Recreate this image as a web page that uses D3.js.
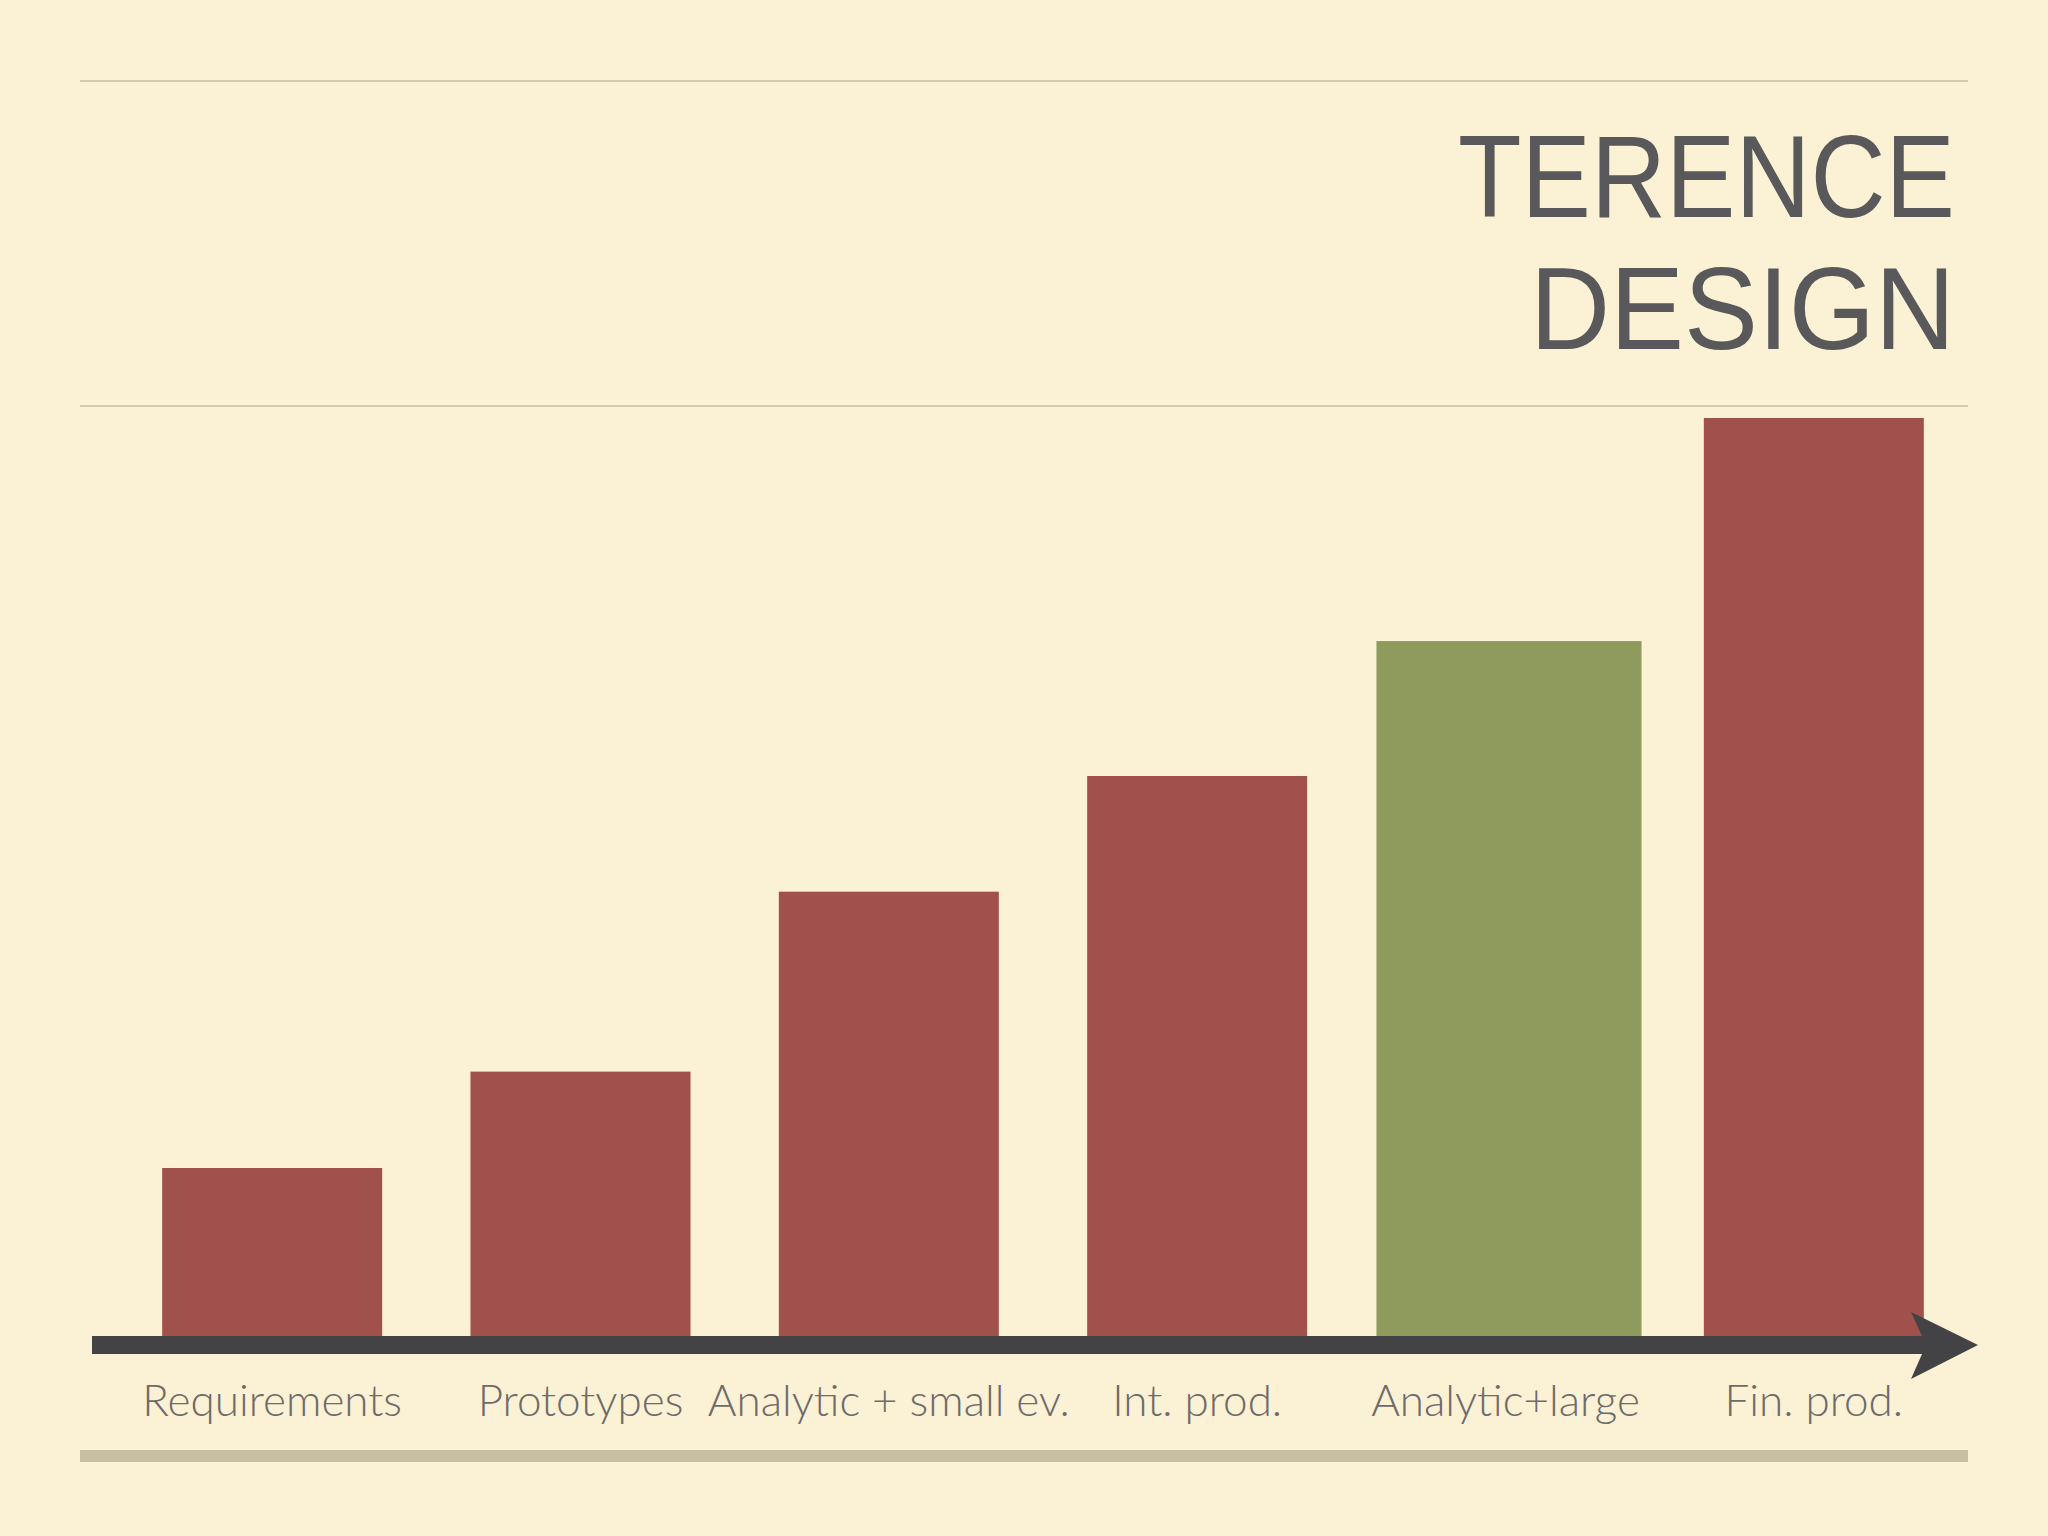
<!DOCTYPE html>
<html>
<head>
<meta charset="utf-8">
<script src="https://cdn.jsdelivr.net/npm/d3@7"></script>
<style>
  html, body { margin: 0; padding: 0; background: #fbf1d5; }
  svg { display: block; }
</style>
</head>
<body>
<script>
// ---- data ----
const categories = ["Requirements", "Prototypes", "Analytic + small ev.", "Int. prod.", "Analytic+large", "Fin. prod."];
const values = [18.3, 28.8, 48.4, 61.0, 75.7, 100];
const highlight = [false, false, false, false, true, false];
const titleLines = ["TERENCE", "DESIGN"];

// ---- layout ----
const W = 2048, H = 1536;
const svg = d3.select("body").append("svg").attr("width", W).attr("height", H);

svg.append("rect").attr("width", W).attr("height", H).attr("fill", "#fbf1d5");

const x = d3.scaleBand()
  .domain(categories)
  .range([118, 1968])
  .paddingInner(0.2865)
  .paddingOuter(0.14325);

const y = d3.scaleLinear().domain([0, 100]).range([1336, 418]);

// rules
svg.append("rect").attr("x", 80).attr("y", 80).attr("width", 1888).attr("height", 2).attr("fill", "#d3c9ad");
svg.append("rect").attr("x", 80).attr("y", 405).attr("width", 1888).attr("height", 2).attr("fill", "#d3c9ad");
svg.append("rect").attr("x", 80).attr("y", 1450).attr("width", 1888).attr("height", 12).attr("fill", "#c7bea3");

// title
const title = svg.append("g").attr("fill", "#59585a")
  .style("font-family", "'Liberation Sans', Arial, sans-serif");
const titleBaselines = [217, 349];
const titleWidths = [497, 425];
titleLines.forEach((t, i) => {
  title.append("text")
    .attr("x", 1955).attr("y", titleBaselines[i])
    .attr("text-anchor", "end")
    .attr("font-size", 116)
    .attr("font-weight", 400)
    .attr("textLength", titleWidths[i])
    .attr("lengthAdjust", "spacingAndGlyphs")
    .text(t);
});

// bars
const data = categories.map((c, i) => ({ c, v: values[i], h: highlight[i] }));
svg.append("g").selectAll("rect").data(data).join("rect")
  .attr("x", d => {
    const w = d.h ? x.bandwidth() * 1.205 : x.bandwidth();
    return x(d.c) + x.bandwidth() / 2 - w / 2 + (d.h ? 3.5 : 0);
  })
  .attr("width", d => d.h ? x.bandwidth() * 1.205 : x.bandwidth())
  .attr("y", d => y(d.v))
  .attr("height", d => y(0) - y(d.v))
  .attr("fill", d => d.h ? "#8f9b5d" : "#a1514b");

// arrow axis
const y0 = y(0);
const arrow = d3.path();
arrow.moveTo(92, y0);
arrow.lineTo(1922, y0);
arrow.lineTo(1911, y0 - 24);
arrow.lineTo(1978, y0 + 9);
arrow.lineTo(1911, y0 + 43);
arrow.lineTo(1922, y0 + 18);
arrow.lineTo(92, y0 + 18);
arrow.closePath();
svg.append("path").attr("d", arrow.toString()).attr("fill", "#434244");

// category labels
svg.append("g").selectAll("text").data(categories).join("text")
  .attr("x", d => x(d) + x.bandwidth() / 2)
  .attr("y", 1416)
  .attr("text-anchor", "middle")
  .attr("font-size", 44)
  .attr("font-weight", 300)
  .style("font-family", "Lato, 'Open Sans', sans-serif")
  .attr("fill", "#6d6b6b")
  .text(d => d);
</script>
</body>
</html>
